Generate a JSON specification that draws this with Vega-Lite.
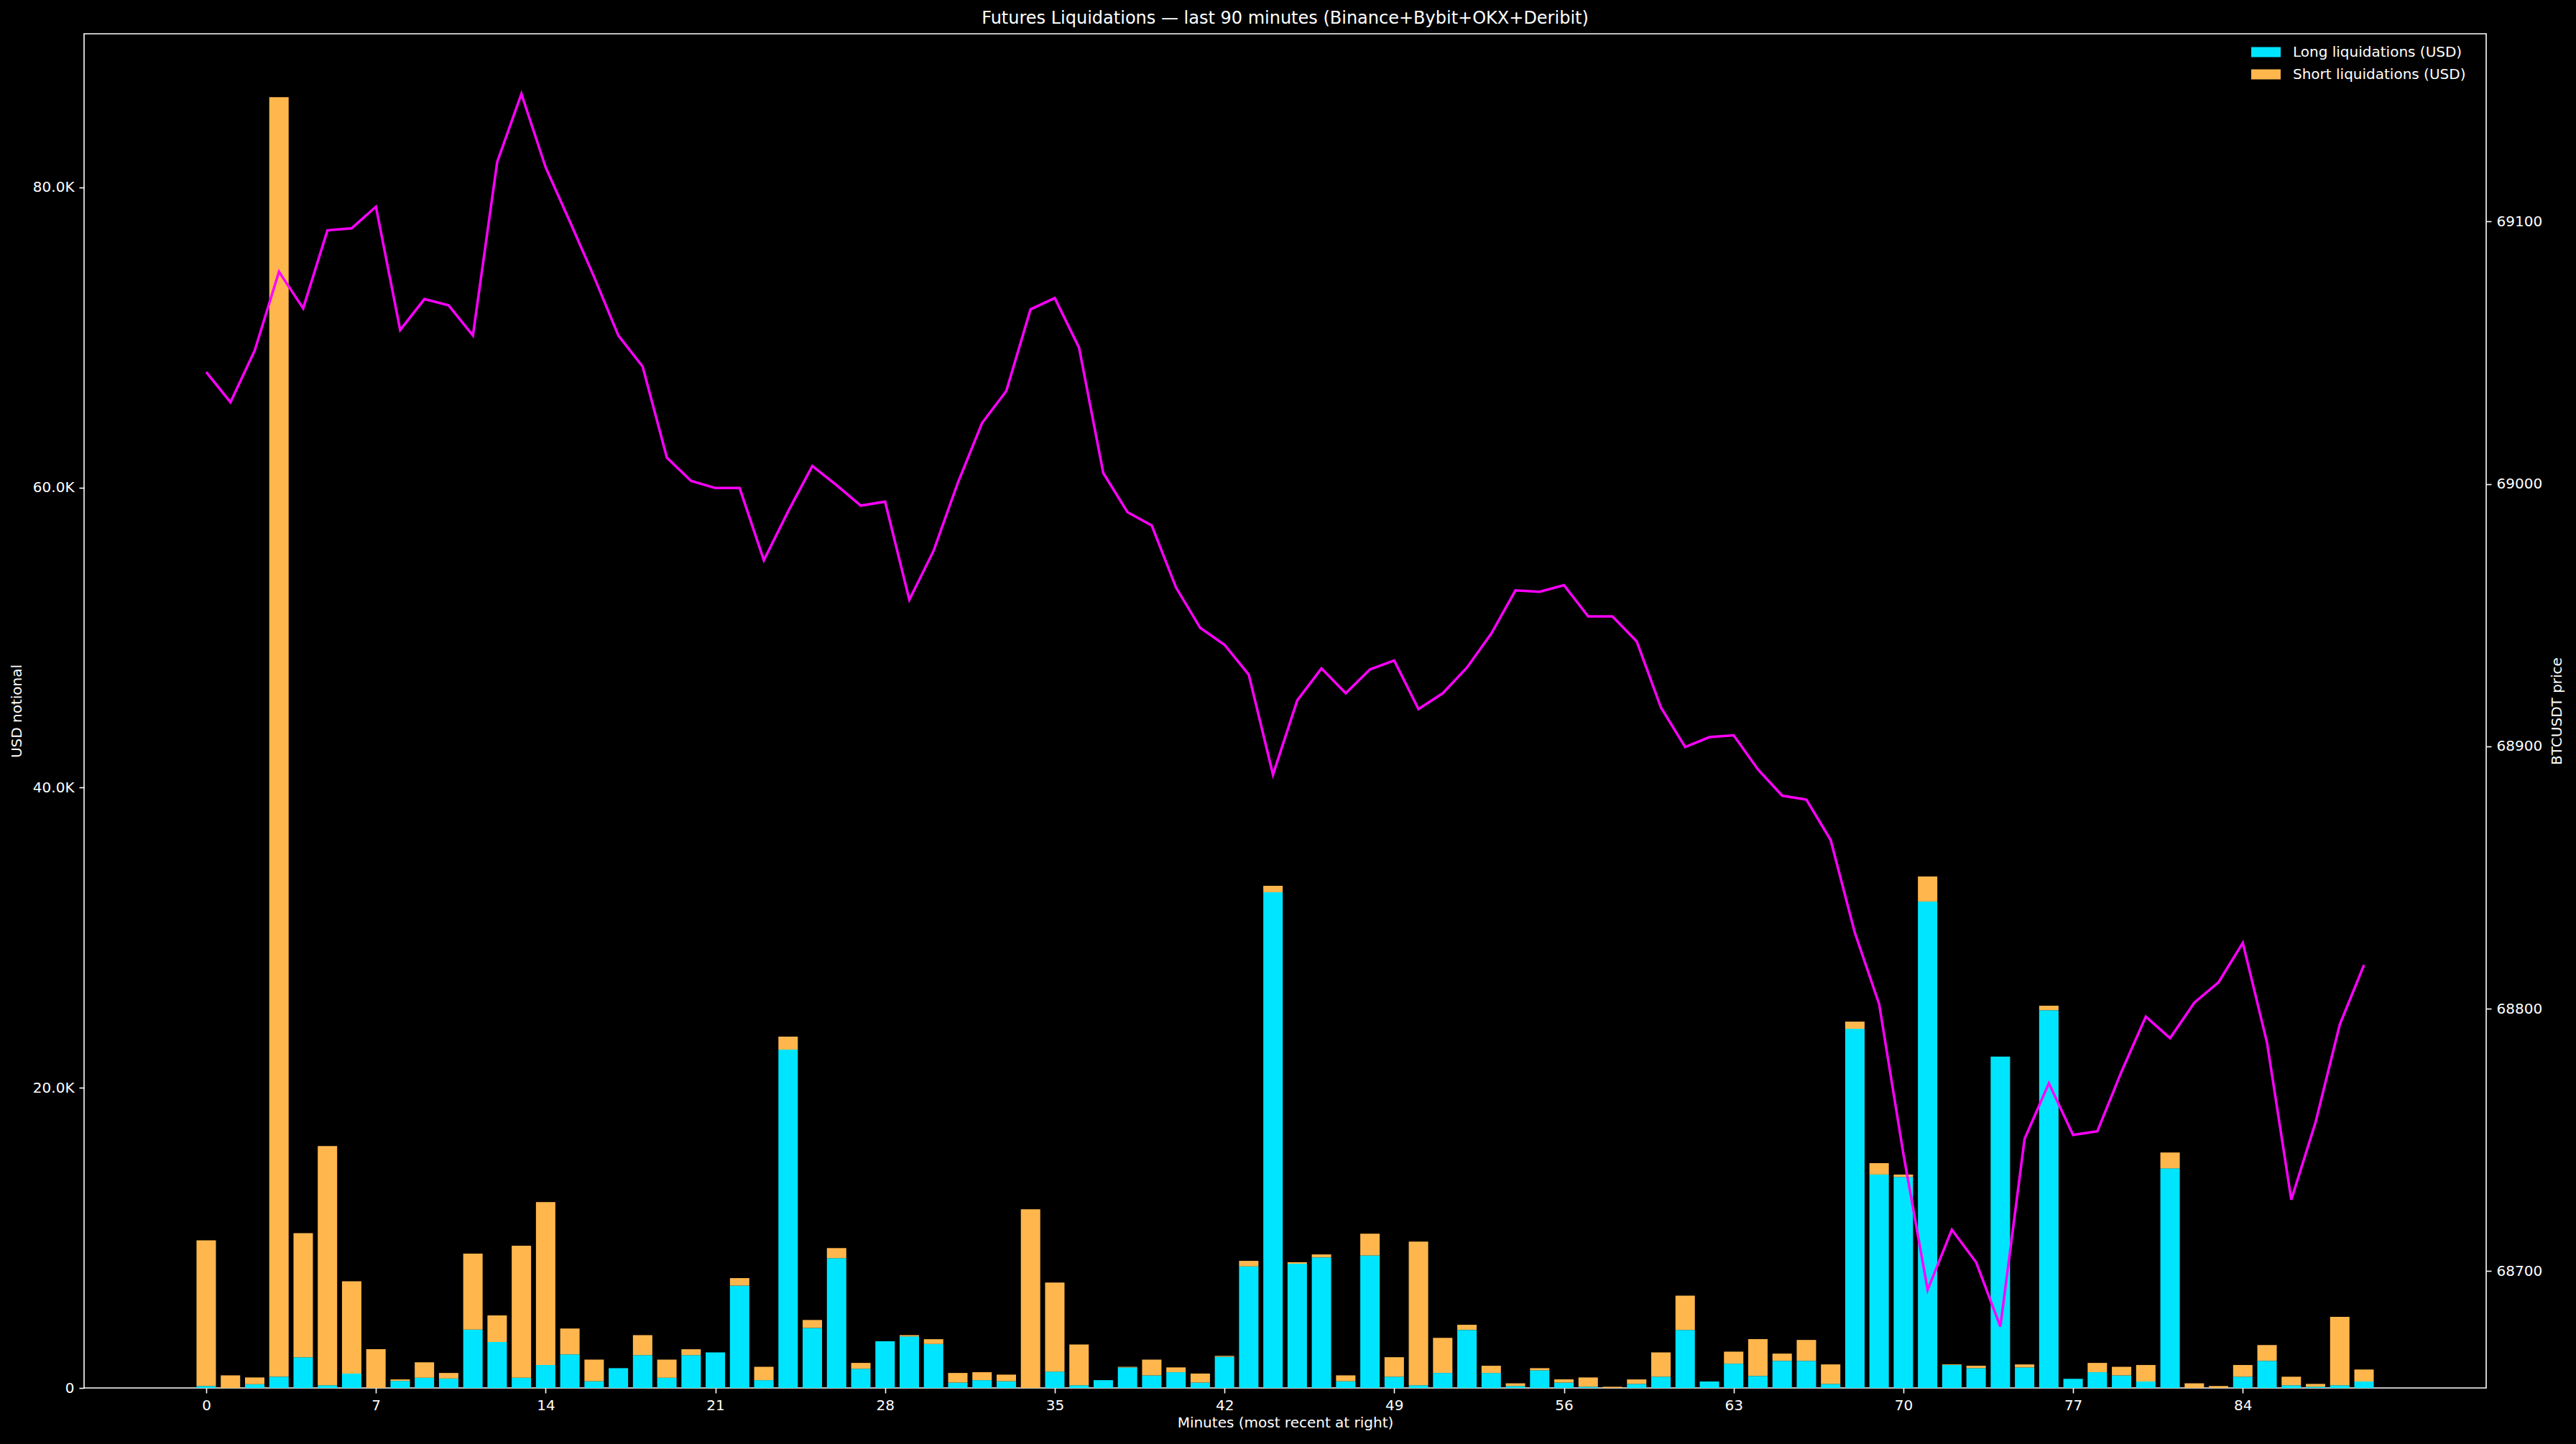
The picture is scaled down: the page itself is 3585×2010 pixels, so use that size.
{
  "$schema": "https://vega.github.io/schema/vega-lite/v6.json",
  "width": 3343,
  "height": 1885,
  "autosize": {"type": "none"},
  "padding": {"left": 117, "top": 47, "right": 125, "bottom": 78},
  "background": "#000000",
  "config": {
    "font": "DejaVu Sans",
    "view": {"stroke": "#ffffff", "strokeWidth": 1.6, "fill": "#000000"},
    "axis": {
      "labelColor": "#ffffff", "titleColor": "#ffffff", "tickColor": "#ffffff", "domainColor": "#ffffff",
      "labelFont": "DejaVu Sans", "titleFont": "DejaVu Sans",
      "labelFontSize": 20, "titleFontSize": 20, "titleFontWeight": "normal",
      "grid": false, "tickSize": 7, "tickWidth": 1.6, "domainWidth": 1.6, "labelPadding": 7,
      "labelFlush": false, "labelOverlap": false
    },
    "legend": {
      "labelFont": "DejaVu Sans", "labelFontSize": 20, "labelColor": "#ffffff", "labelLimit": 0
    }
  },
  "title": {
    "text": "Futures Liquidations — last 90 minutes (Binance+Bybit+OKX+Deribit)",
    "color": "#ffffff", "font": "DejaVu Sans", "fontSize": 24, "fontWeight": "normal",
    "anchor": "middle", "frame": "group", "baseline": "alphabetic", "offset": -10
  },
  "datasets": {
    "rows": [
      {"minute": 0, "long": 130, "short": 9710, "price": 69042.6},
      {"minute": 1, "long": 0, "short": 840, "price": 69031.1},
      {"minute": 2, "long": 250, "short": 450, "price": 69050.8},
      {"minute": 3, "long": 750, "short": 85250, "price": 69080.8},
      {"minute": 4, "long": 2050, "short": 8270, "price": 69066.9},
      {"minute": 5, "long": 180, "short": 15940, "price": 69096.6},
      {"minute": 6, "long": 960, "short": 6150, "price": 69097.4},
      {"minute": 7, "long": 0, "short": 2580, "price": 69105.6},
      {"minute": 8, "long": 470, "short": 100, "price": 69058.6},
      {"minute": 9, "long": 680, "short": 1030, "price": 69070.4},
      {"minute": 10, "long": 630, "short": 370, "price": 69068.0},
      {"minute": 11, "long": 3890, "short": 5060, "price": 69056.5},
      {"minute": 12, "long": 3060, "short": 1770, "price": 69122.6},
      {"minute": 13, "long": 680, "short": 8800, "price": 69148.6},
      {"minute": 14, "long": 1530, "short": 10860, "price": 69120.6},
      {"minute": 15, "long": 2240, "short": 1720, "price": 69099.9},
      {"minute": 16, "long": 450, "short": 1440, "price": 69078.8},
      {"minute": 17, "long": 1320, "short": 0, "price": 69056.5},
      {"minute": 18, "long": 2190, "short": 1330, "price": 69044.7},
      {"minute": 19, "long": 680, "short": 1210, "price": 69010.0},
      {"minute": 20, "long": 2190, "short": 390, "price": 69001.1},
      {"minute": 21, "long": 2370, "short": 0, "price": 68998.4},
      {"minute": 22, "long": 6820, "short": 500, "price": 68998.4},
      {"minute": 23, "long": 520, "short": 890, "price": 68970.9},
      {"minute": 24, "long": 22540, "short": 870, "price": 68989.5},
      {"minute": 25, "long": 4000, "short": 530, "price": 69006.8},
      {"minute": 26, "long": 8650, "short": 670, "price": 68999.5},
      {"minute": 27, "long": 1280, "short": 390, "price": 68991.7},
      {"minute": 28, "long": 3110, "short": 0, "price": 68993.2},
      {"minute": 29, "long": 3430, "short": 90, "price": 68955.8},
      {"minute": 30, "long": 2930, "short": 320, "price": 68974.5},
      {"minute": 31, "long": 360, "short": 640, "price": 69000.4},
      {"minute": 32, "long": 520, "short": 530, "price": 69023.2},
      {"minute": 33, "long": 450, "short": 440, "price": 69035.4},
      {"minute": 34, "long": 0, "short": 11910, "price": 69066.5},
      {"minute": 35, "long": 1090, "short": 5940, "price": 69070.8},
      {"minute": 36, "long": 180, "short": 2720, "price": 69051.9},
      {"minute": 37, "long": 520, "short": 0, "price": 69004.1},
      {"minute": 38, "long": 1370, "short": 40, "price": 68989.2},
      {"minute": 39, "long": 840, "short": 1050, "price": 68984.1},
      {"minute": 40, "long": 1050, "short": 320, "price": 68960.5},
      {"minute": 41, "long": 360, "short": 600, "price": 68945.1},
      {"minute": 42, "long": 2080, "short": 60, "price": 68938.7},
      {"minute": 43, "long": 8100, "short": 370, "price": 68927.3},
      {"minute": 44, "long": 33030, "short": 430, "price": 68889.2},
      {"minute": 45, "long": 8280, "short": 100, "price": 68917.5},
      {"minute": 46, "long": 8700, "short": 200, "price": 68929.7},
      {"minute": 47, "long": 450, "short": 390, "price": 68920.2},
      {"minute": 48, "long": 8830, "short": 1450, "price": 68929.3},
      {"minute": 49, "long": 750, "short": 1300, "price": 68932.7},
      {"minute": 50, "long": 180, "short": 9570, "price": 68914.2},
      {"minute": 51, "long": 1000, "short": 2340, "price": 68920.2},
      {"minute": 52, "long": 3870, "short": 340, "price": 68930.0},
      {"minute": 53, "long": 1000, "short": 480, "price": 68942.9},
      {"minute": 54, "long": 130, "short": 180, "price": 68959.4},
      {"minute": 55, "long": 1180, "short": 140, "price": 68958.9},
      {"minute": 56, "long": 360, "short": 210, "price": 68961.4},
      {"minute": 57, "long": 80, "short": 620, "price": 68949.5},
      {"minute": 58, "long": 0, "short": 80, "price": 68949.5},
      {"minute": 59, "long": 270, "short": 300, "price": 68940.0},
      {"minute": 60, "long": 750, "short": 1620, "price": 68914.8},
      {"minute": 61, "long": 3870, "short": 2280, "price": 68899.7},
      {"minute": 62, "long": 430, "short": 0, "price": 68903.5},
      {"minute": 63, "long": 1620, "short": 800, "price": 68904.2},
      {"minute": 64, "long": 800, "short": 2450, "price": 68891.2},
      {"minute": 65, "long": 1810, "short": 480, "price": 68881.2},
      {"minute": 66, "long": 1810, "short": 1390, "price": 68879.7},
      {"minute": 67, "long": 270, "short": 1300, "price": 68864.3},
      {"minute": 68, "long": 23930, "short": 480, "price": 68828.9},
      {"minute": 69, "long": 14220, "short": 760, "price": 68801.8},
      {"minute": 70, "long": 14060, "short": 160, "price": 68744.7},
      {"minute": 71, "long": 32410, "short": 1670, "price": 68692.9},
      {"minute": 72, "long": 1530, "short": 40, "price": 68715.8},
      {"minute": 73, "long": 1320, "short": 160, "price": 68703.4},
      {"minute": 74, "long": 22080, "short": 0, "price": 68678.9},
      {"minute": 75, "long": 1370, "short": 200, "price": 68750.4},
      {"minute": 76, "long": 25170, "short": 300, "price": 68771.6},
      {"minute": 77, "long": 610, "short": 0, "price": 68751.9},
      {"minute": 78, "long": 1050, "short": 620, "price": 68753.3},
      {"minute": 79, "long": 840, "short": 570, "price": 68776.1},
      {"minute": 80, "long": 430, "short": 1100, "price": 68797.0},
      {"minute": 81, "long": 14630, "short": 1060, "price": 68788.8},
      {"minute": 82, "long": 0, "short": 310, "price": 68802.3},
      {"minute": 83, "long": 0, "short": 130, "price": 68810.1},
      {"minute": 84, "long": 750, "short": 780, "price": 68825.1},
      {"minute": 85, "long": 1810, "short": 1050, "price": 68787.0},
      {"minute": 86, "long": 180, "short": 570, "price": 68727.2},
      {"minute": 87, "long": 80, "short": 190, "price": 68756.7},
      {"minute": 88, "long": 180, "short": 4560, "price": 68794.0},
      {"minute": 89, "long": 430, "short": 800, "price": 68816.7}
    ]
  },
  "data": {"name": "rows"},
  "layer": [
    {
      "transform": [{"fold": ["long", "short"], "as": ["side", "usd"]}],
      "mark": {"type": "bar", "width": 27, "strokeWidth": 0},
      "encoding": {
        "x": {
          "field": "minute", "type": "quantitative",
          "scale": {"domain": [-4.89, 93.89], "nice": false, "zero": false},
          "axis": {"values": [0, 7, 14, 21, 28, 35, 42, 49, 56, 63, 70, 77, 84], "title": "Minutes (most recent at right)", "titlePadding": 4, "domain": false}
        },
        "y": {
          "field": "usd", "type": "quantitative", "stack": "zero",
          "scale": {"domain": [0, 90230], "nice": false, "zero": true},
          "axis": {
            "values": [0, 20000, 40000, 60000, 80000],
            "labelExpr": "datum.value == 0 ? '0' : format(datum.value / 1000, '.1f') + 'K'",
            "title": "USD notional", "titlePadding": 12, "domain": false
          }
        },
        "color": {
          "field": "side", "type": "nominal",
          "scale": {"domain": ["long", "short"], "range": ["#00E5FF", "#FFB74D"]},
          "legend": {
            "orient": "none", "legendX": 3026, "legendY": 15, "title": null, "padding": 0,
            "symbolType": "M-2,-0.68L2,-0.68L2,0.68L-2,0.68Z", "symbolSize": 420,
            "symbolStrokeWidth": 0, "labelOffset": 27, "rowPadding": 10, "labelLimit": 0,
            "labelExpr": "datum.label == 'long' ? 'Long liquidations (USD)' : 'Short liquidations (USD)'"
          }
        },
        "order": {"field": "side", "sort": "ascending"}
      }
    },
    {
      "mark": {"type": "line", "color": "#FF00FF", "strokeWidth": 3.5},
      "encoding": {
        "x": {"field": "minute", "type": "quantitative"},
        "y": {
          "field": "price", "type": "quantitative",
          "scale": {"domain": [68655.5, 69171.5], "nice": false, "zero": false},
          "axis": {
            "orient": "right", "values": [68700, 68800, 68900, 69000, 69100], "format": "d",
            "title": "BTCUSDT price", "titleAngle": 270, "titlePadding": 31, "domain": false
          }
        }
      }
    }
  ],
  "resolve": {"scale": {"y": "independent"}}
}
